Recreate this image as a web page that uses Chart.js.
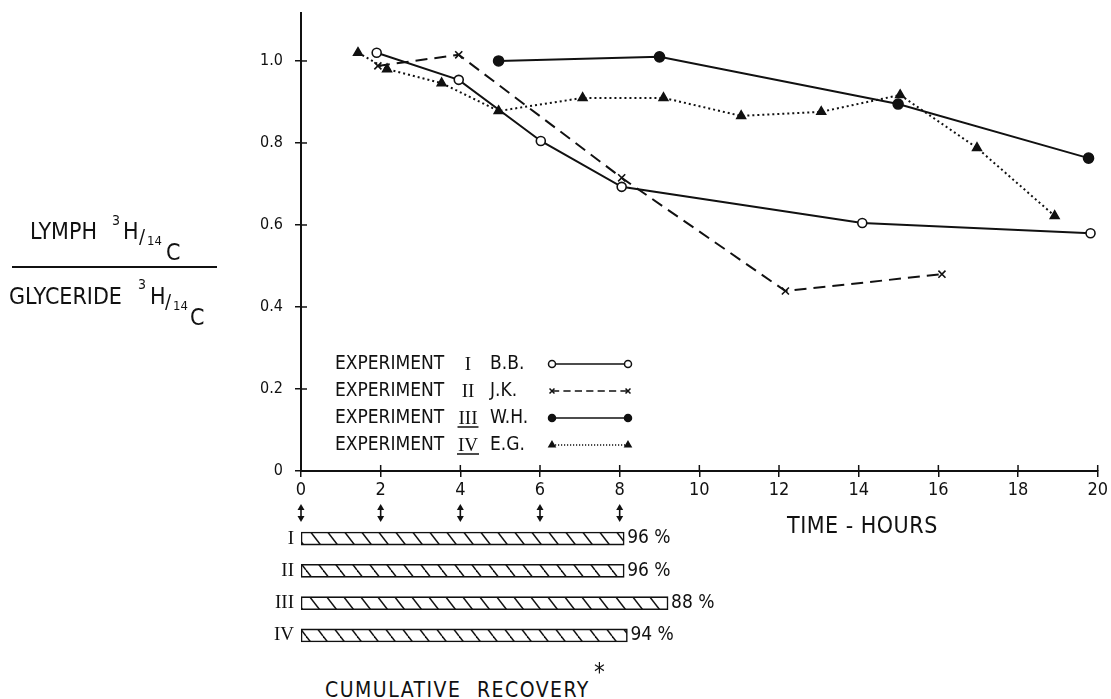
<!DOCTYPE html>
<html>
<head>
<meta charset="utf-8">
<script src="https://cdn.jsdelivr.net/npm/chart.js@4.4.1/dist/chart.umd.min.js"></script>
<style>
  body { margin: 0; background: #fff; }
  #wrap { position: relative; width: 1111px; height: 699px; overflow: hidden; }
  canvas { position: absolute; left: 0; }
  .lbl {
    position: absolute; color: #111; white-space: nowrap; line-height: 1;
    font-family: 'DejaVu Sans Condensed', 'DejaVu Sans', sans-serif;
    transform: translateY(-50%);
  }
</style>
</head>
<body>
<div id="wrap">
  <canvas id="ratio" width="1111" height="540" style="top:0"></canvas>
  <canvas id="recovery" width="1111" height="166" style="top:504px"></canvas>

  <div class="lbl" style="left:30px;top:231px;font-size:23px">LYMPH</div>
  <div class="lbl" style="left:112px;top:220px;font-size:14px">3</div>
  <div class="lbl" style="left:123px;top:231px;font-size:23px">H</div>
  <div class="lbl" style="left:139px;top:236px;font-size:20px">/</div>
  <div class="lbl" style="left:147px;top:240px;font-size:13px">14</div>
  <div class="lbl" style="left:166px;top:252px;font-size:23px">C</div>
  <div style="position:absolute;left:12px;top:266px;width:205px;height:2px;background:#111"></div>
  <div class="lbl" style="left:9px;top:296px;font-size:23px">GLYCERIDE</div>
  <div class="lbl" style="left:138px;top:284px;font-size:14px">3</div>
  <div class="lbl" style="left:150px;top:296px;font-size:23px">H</div>
  <div class="lbl" style="left:165px;top:301px;font-size:20px">/</div>
  <div class="lbl" style="left:173px;top:305px;font-size:13px">14</div>
  <div class="lbl" style="left:190px;top:317px;font-size:23px">C</div>

  <div class="lbl" style="left:787px;top:525px;font-size:23px;letter-spacing:0.5px">TIME - HOURS</div>
  <div class="lbl" style="left:325px;top:690px;font-size:21px;letter-spacing:1.5px;word-spacing:8px">CUMULATIVE RECOVERY</div>
  <div class="lbl" style="left:594px;top:672px;font-size:24px">*</div>
</div>

<script>
// ratio curves, hours
const exp1Hours = [1.9, 3.96, 6.02, 8.05, 14.09, 19.82];
const exp1Ratio = [1.02, 0.954, 0.805, 0.693, 0.605, 0.58];
const exp2Hours = [1.93, 3.96, 8.05, 12.16, 16.09];
const exp2Ratio = [0.988, 1.015, 0.715, 0.439, 0.48];
const exp3Hours = [4.96, 9.0, 14.99, 19.77];
const exp3Ratio = [1.0, 1.01, 0.895, 0.763];
const exp4Hours = [1.43, 2.16, 3.53, 4.96, 7.07, 9.1, 11.05, 13.06, 15.04, 16.97, 18.92];
const exp4Ratio = [1.02, 0.98, 0.946, 0.878, 0.91, 0.91, 0.866, 0.876, 0.917, 0.788, 0.622];

const yTicks = [0, 0.2, 0.4, 0.6, 0.8, 1.0];
const legendNames = ['I', 'II', 'III', 'IV'];
const legendInitials = ['B.B.', 'J.K.', 'W.H.', 'E.G.'];

// cumulative recovery bars
const runLabels = ['I', 'II', 'III', 'IV'];
const recoveryEnd = [8.1, 8.1, 9.2, 8.18];
const recoveryPct = ['96 %', '96 %', '88 %', '94 %'];
const sampleHours = [0, 2, 4, 6, 8];

const INK = '#111';
const SANS = "'DejaVu Sans Condensed', 'DejaVu Sans', sans-serif";
const SERIF = "'Liberation Serif', 'DejaVu Serif', serif";

Chart.defaults.font.family = SANS;
Chart.defaults.color = INK;

function toPoints(xs, ys) {
    return xs.map((x, i) => ({x: x, y: ys[i]}));
}

const series = [
    {data: toPoints(exp1Hours, exp1Ratio), borderDash: [], pointStyle: 'circle', pointRadius: 4.5, pointBackgroundColor: '#fff'},
    {data: toPoints(exp2Hours, exp2Ratio), borderDash: [12, 7], pointStyle: 'crossRot', pointRadius: 5, pointBackgroundColor: INK},
    {data: toPoints(exp3Hours, exp3Ratio), borderDash: [], pointStyle: 'circle', pointRadius: 5, pointBackgroundColor: INK},
    {data: toPoints(exp4Hours, exp4Ratio), borderDash: [2, 3], pointStyle: 'triangle', pointRadius: 5, pointBackgroundColor: INK},
];
series.forEach(function (ds) {
    ds.borderColor = INK;
    ds.borderWidth = 2;
    ds.pointBorderColor = INK;
    ds.pointBorderWidth = 1.6;
    ds.tension = 0;
    ds.fill = false;
});

// ticks in the original cross the axis lines
const crossTicks = {
    id: 'crossTicks',
    afterDraw(chart) {
        const ctx = chart.ctx, a = chart.chartArea;
        ctx.save();
        ctx.strokeStyle = INK;
        ctx.lineWidth = 1.5;
        chart.scales.x.ticks.forEach(function (t) {
            const x = chart.scales.x.getPixelForValue(t.value);
            ctx.beginPath(); ctx.moveTo(x, a.bottom); ctx.lineTo(x, a.bottom - 6); ctx.stroke();
        });
        chart.scales.y.ticks.forEach(function (t) {
            const y = chart.scales.y.getPixelForValue(t.value);
            ctx.beginPath(); ctx.moveTo(a.left, y); ctx.lineTo(a.left + 6, y); ctx.stroke();
        });
        ctx.restore();
    }
};

// legend block inside the plot
const legendBox = {
    id: 'legendBox',
    afterDraw(chart) {
        const ctx = chart.ctx;
        ctx.save();
        ctx.fillStyle = INK;
        ctx.strokeStyle = INK;
        ctx.textBaseline = 'middle';
        chart.data.datasets.forEach(function (ds, i) {
            const y = 364 + i * 27;
            ctx.font = '19px ' + SANS;
            ctx.textAlign = 'left';
            ctx.fillText('EXPERIMENT', 335, y);
            ctx.fillText(legendInitials[i], 490, y);
            ctx.font = '19px ' + SERIF;
            ctx.textAlign = 'center';
            ctx.fillText(legendNames[i], 468, y + 1);
            if (i >= 2) {
                const w = ctx.measureText(legendNames[i]).width;
                ctx.lineWidth = 1.5;
                ctx.beginPath(); ctx.moveTo(468 - w / 2 - 1, y + 9); ctx.lineTo(468 + w / 2 + 1, y + 9); ctx.stroke();
            }
            ctx.lineWidth = 1.5;
            ctx.setLineDash(ds.borderDash.length ? ds.borderDash.map(v => v * 0.6) : []);
            ctx.beginPath(); ctx.moveTo(552, y); ctx.lineTo(628, y); ctx.stroke();
            ctx.setLineDash([]);
            ctx.fillStyle = ds.pointBackgroundColor;
            [552, 628].forEach(function (x) {
                Chart.helpers.drawPoint(ctx, {pointStyle: ds.pointStyle, radius: 3.5, borderWidth: 1.4, rotation: 0}, x, y);
            });
            ctx.fillStyle = INK;
        });
        ctx.restore();
    }
};

// double-headed arrows marking the sampling times
const sampleArrows = {
    id: 'sampleArrows',
    afterDraw(chart) {
        const ctx = chart.ctx;
        ctx.save();
        ctx.strokeStyle = INK;
        ctx.fillStyle = INK;
        ctx.lineWidth = 1.6;
        sampleHours.forEach(function (h) {
            const x = chart.scales.x.getPixelForValue(h);
            const top = 504, bot = 522;
            ctx.beginPath(); ctx.moveTo(x, top + 2); ctx.lineTo(x, bot - 2); ctx.stroke();
            ctx.beginPath(); ctx.moveTo(x, top); ctx.lineTo(x - 3.5, top + 6); ctx.lineTo(x + 3.5, top + 6); ctx.closePath(); ctx.fill();
            ctx.beginPath(); ctx.moveTo(x, bot); ctx.lineTo(x - 3.5, bot - 6); ctx.lineTo(x + 3.5, bot - 6); ctx.closePath(); ctx.fill();
        });
        ctx.restore();
    }
};

new Chart(document.getElementById('ratio'), {
    type: 'line',
    data: {datasets: series},
    options: {
        responsive: false,
        animation: false,
        layout: {padding: {left: 241, right: 12, top: 13, bottom: 29}},
        plugins: {legend: {display: false}, tooltip: {enabled: false}},
        scales: {
            x: {
                type: 'linear', min: 0, max: 20,
                afterFit: s => { s.height = 40; },
                ticks: {stepSize: 2, padding: 3, font: {size: 18}, color: INK},
                grid: {drawOnChartArea: false, tickLength: 6, color: INK, lineWidth: 1.5},
                border: {color: INK, width: 2}
            },
            y: {
                min: 0, max: 1.117,
                afterFit: s => { s.width = 60; s.paddingTop = 0; s.paddingBottom = 0; },
                afterBuildTicks: s => { s.ticks = yTicks.map(v => ({value: v})); },
                ticks: {padding: 12, font: {size: 16}, color: INK, callback: v => v === 0 ? '0' : v.toFixed(1)},
                grid: {drawOnChartArea: false, tickLength: 6, color: INK, lineWidth: 1.5},
                border: {color: INK, width: 2}
            }
        }
    },
    plugins: [crossTicks, legendBox, sampleArrows]
});

function makeHatch() {
    const c = document.createElement('canvas');
    c.width = 17;
    c.height = 22;
    const g = c.getContext('2d');
    g.fillStyle = '#fff';
    g.fillRect(0, 0, 17, 22);
    g.strokeStyle = INK;
    g.lineWidth = 1.5;
    [-17, 0, 17].forEach(function (dx) {
        g.beginPath(); g.moveTo(dx, 0); g.lineTo(dx + 17, 22); g.stroke();
    });
    return g.createPattern(c, 'repeat');
}

const pctLabels = {
    id: 'pctLabels',
    afterDatasetsDraw(chart) {
        const ctx = chart.ctx;
        ctx.save();
        ctx.fillStyle = INK;
        ctx.font = '19px ' + SANS;
        ctx.textAlign = 'left';
        ctx.textBaseline = 'middle';
        chart.getDatasetMeta(0).data.forEach(function (bar, i) {
            ctx.fillText(recoveryPct[i], bar.x + 3, bar.y);
        });
        ctx.restore();
    }
};

new Chart(document.getElementById('recovery'), {
    type: 'bar',
    data: {
        labels: runLabels,
        datasets: [{
            data: recoveryEnd,
            backgroundColor: makeHatch(),
            borderColor: INK,
            borderWidth: 1.6,
            borderSkipped: false,
            barThickness: 13
        }]
    },
    options: {
        indexAxis: 'y',
        responsive: false,
        animation: false,
        layout: {padding: {left: 261, right: 12, top: 1, bottom: 9}},
        plugins: {legend: {display: false}, tooltip: {enabled: false}},
        scales: {
            x: {display: false, min: 0, max: 20},
            y: {
                afterFit: s => { s.width = 40; },
                grid: {display: false, drawTicks: false},
                border: {display: false},
                ticks: {padding: 7, color: INK, font: {family: SERIF, size: 19}}
            }
        }
    },
    plugins: [pctLabels]
});
</script>
</body>
</html>
